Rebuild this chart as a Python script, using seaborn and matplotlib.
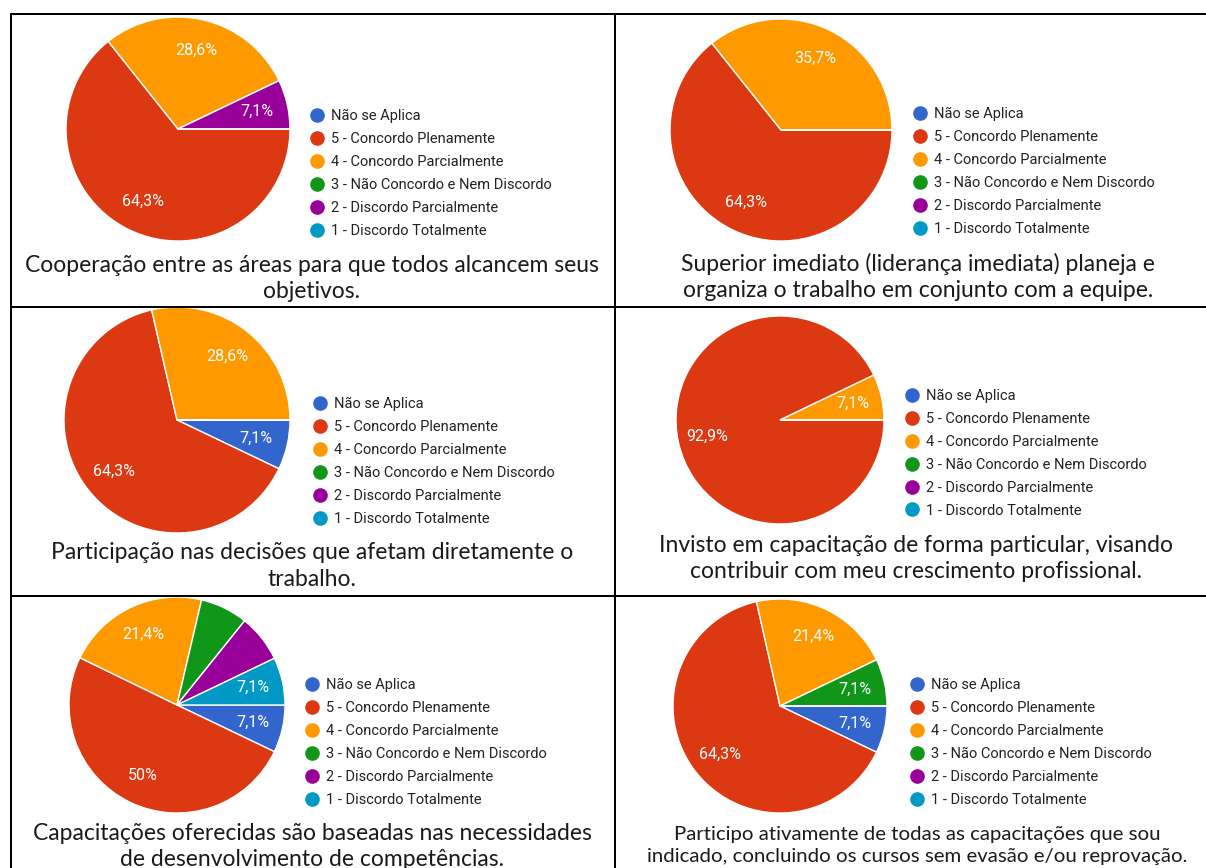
import matplotlib
matplotlib.use("Agg")
import matplotlib.pyplot as plt
from matplotlib.lines import Line2D
import seaborn as sns

W, H = 1206, 868

categories = ["Não se Aplica", "5 - Concordo Plenamente", "4 - Concordo Parcialmente",
              "3 - Não Concordo e Nem Discordo", "2 - Discordo Parcialmente",
              "1 - Discordo Totalmente"]
colors = sns.color_palette(["#3366cc", "#dc3912", "#ff9900", "#109618", "#990099", "#0099c6"])

# percentages per question, in legend order
cooperacao = [0, 64.3, 28.6, 0, 7.1, 0]
superior = [0, 64.3, 35.7, 0, 0, 0]
participacao = [7.1, 64.3, 28.6, 0, 0, 0]
invisto = [0, 92.9, 7.1, 0, 0, 0]
capacitacoes = [7.1, 50, 21.4, 7.1, 7.1, 7.1]
participo = [7.1, 64.3, 21.4, 7.1, 0, 0]

captions = [
    "Cooperação entre as áreas para que todos alcancem seus\nobjetivos.",
    "Superior imediato (liderança imediata) planeja e\norganiza o trabalho em conjunto com a equipe.",
    "Participação nas decisões que afetam diretamente o\ntrabalho.",
    "Invisto em capacitação de forma particular, visando\ncontribuir com meu crescimento profissional.",
    "Capacitações oferecidas são baseadas nas necessidades\nde desenvolvimento de competências.",
    "Participo ativamente de todas as capacitações que sou\nindicado, concluindo os cursos sem evasão e/ou reprovação.",
]

# layout in pixels: pie centre, radius, legend anchor, caption centre, caption size, hidden labels
panels = [
    (cooperacao, 178, 129, 112, 311, 109, 312, 278.5, 16.5, ()),
    (superior, 781, 130, 111, 914, 107, 918, 277, 16.5, ()),
    (participacao, 177, 420, 113, 314, 397, 312, 566, 16.5, ()),
    (invisto, 780, 420, 104, 906, 389, 916, 558.5, 16.5, ()),
    (capacitacoes, 177, 705, 108, 306, 678, 312, 846.5, 16.5, (3, 4)),
    (participo, 780, 706, 107, 911, 678, 917, 845.5, 14.7, ()),
]


def fmt(v):
    if v == 0:
        return ""
    s = f"{v:.1f}".replace(".", ",")
    if s.endswith(",0"):
        s = s[:-2]
    return s + "%"


sns.set_theme(style="white")
plt.rcParams["font.family"] = ["Roboto", "DejaVu Sans"]

fig = plt.figure(figsize=(W / 100, H / 100), dpi=100)

handles = [Line2D([], [], marker="o", linestyle="", markersize=9.5,
                  markerfacecolor=c, markeredgecolor=c) for c in colors]

for i, (vals, cx, cy, r, lx, ly, tx, ty, fs, hidden) in enumerate(panels):
    ax = fig.add_axes([(cx - r) / W, 1 - (cy + r) / H, 2 * r / W, 2 * r / H])
    labels = ["" if j in hidden else fmt(v) for j, v in enumerate(vals)]
    wedges, texts = ax.pie(vals, colors=colors, startangle=0, counterclock=False,
                           labels=labels, labeldistance=0.72,
                           wedgeprops=dict(edgecolor="white", linewidth=1),
                           textprops=dict(color="white", fontsize=11.5))
    for t in texts:
        t.set_ha("center")
        t.set_va("center")
    ax.set_xlim(-1, 1)
    ax.set_ylim(-1, 1)
    ax.axis("off")

    leg = fig.legend(handles, categories, loc="upper left",
                     bbox_to_anchor=(lx / W, 1 - ly / H), frameon=False,
                     fontsize=10.5, handlelength=0.8, handletextpad=0.56,
                     labelspacing=0.61, borderpad=0, borderaxespad=0)
    for t in leg.get_texts():
        t.set_color("#222222")

    fig.text(tx / W, 1 - ty / H, captions[i], ha="center", va="center",
             fontsize=fs, family=["Lato", "DejaVu Sans"], color="#1a1a1a",
             linespacing=1.3)

# table grid
lw = 2 * 72 / 100
for x0, y0, x1, y1 in [(11, 14, W, 14), (11, 306.5, W, 306.5), (11, 595.5, W, 595.5),
                       (11, 14, 11, H), (614.5, 14, 614.5, H)]:
    fig.add_artist(Line2D([x0 / W, x1 / W], [1 - y0 / H, 1 - y1 / H],
                          transform=fig.transFigure, color="black", linewidth=lw))

fig.savefig("out.png", dpi=100)
